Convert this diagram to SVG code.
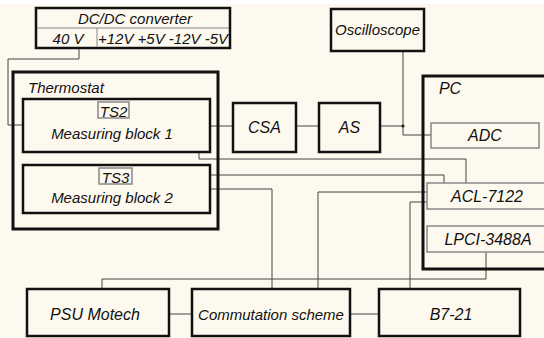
<svg xmlns="http://www.w3.org/2000/svg" width="544" height="338" viewBox="0 0 544 338">
<style>
text{font-family:"Liberation Sans",Arial,sans-serif;font-style:italic;fill:#111;text-anchor:middle}
.box{fill:#fdf9ef;stroke:#111;stroke-width:2.5}
.big{fill:none;stroke:#111;stroke-width:3}
.sub{fill:#fdf9ef;stroke:#888;stroke-width:1.5}
.thin{fill:none;stroke:#888;stroke-width:1}
.w{fill:none;stroke:#444;stroke-width:1}
.t15{font-size:15px}
.t16{font-size:16px}
</style>
<rect x="0" y="0" width="544" height="338" fill="#fdf9ef"/>
<rect x="0" y="0" width="544" height="4" fill="#ffffff"/>

<g id="connectors">
<polyline class="w" points="79,49 79,59 8,59 8,125 23,125" stroke="#777"/>
<polyline class="w" points="129,108 199,108 199,159 466,159 466,183"/>
<polyline class="w" points="132,175 444,175 444,183"/>
<polyline class="w" points="211,189 272,189 272,289"/>
<polyline class="w" points="427,192 318,192 318,289"/>
<polyline class="w" points="427,202 410,202 410,289"/>
<polyline class="w" points="486,252 486,279 102,279 102,289"/>
<line class="w" x1="210" y1="126" x2="233" y2="126"/>
<line class="w" x1="296" y1="126" x2="319" y2="126"/>
<line class="w" x1="380" y1="126" x2="403" y2="126"/>
<polyline class="w" points="403,51 403,135 431,135"/>
<circle cx="403" cy="126" r="1.6" fill="#222"/>
<line class="w" x1="169" y1="314" x2="192" y2="314"/>
<line class="w" x1="350" y1="314" x2="379" y2="314"/>
</g>

<g id="dcdc">
<rect class="box" x="36" y="8" width="194" height="40"/>
<line class="thin" x1="37" y1="28" x2="229" y2="28"/>
<line class="thin" x1="97" y1="28" x2="97" y2="47"/>
<text class="t15" x="135" y="24">DC/DC converter</text>
<text class="t15" x="68" y="44">40 V</text>
<text class="t15" x="163" y="44">+12V +5V -12V -5V</text>
</g>

<g id="thermostat">
<rect class="big" x="13" y="72" width="205" height="157"/>
<text class="t15" x="28" y="93" style="text-anchor:start">Thermostat</text>
</g>

<g id="mb1">
<rect class="box" x="23" y="99" width="187" height="53"/>
<rect class="sub" x="98" y="102" width="31" height="16" stroke-width="1"/>
<text class="t15" x="113.5" y="117">TS2</text>
<text class="t15" x="112" y="139">Measuring block 1</text>
</g>

<g id="mb2">
<rect class="box" x="23" y="165" width="187" height="48"/>
<rect class="sub" x="99" y="168" width="33" height="16" stroke-width="1"/>
<text class="t15" x="115.5" y="183">TS3</text>
<text class="t15" x="112" y="203">Measuring block 2</text>
</g>

<g id="csa">
<rect class="box" x="233" y="103" width="63" height="49"/>
<text class="t16" x="264.5" y="133">CSA</text>
</g>

<g id="as">
<rect class="box" x="319" y="103" width="61" height="49"/>
<text class="t16" x="349.5" y="133">AS</text>
</g>

<g id="oscilloscope">
<rect class="box" x="331" y="9" width="93" height="42"/>
<text class="t15" x="377.5" y="35">Oscilloscope</text>
</g>

<g id="pc">
<rect class="big" x="423" y="76" width="130" height="193"/>
<text class="t16" x="450" y="94">PC</text>
</g>

<g id="adc">
<rect class="sub" x="431" y="123" width="108" height="25"/>
<text class="t16" x="485" y="141">ADC</text>
</g>

<g id="acl">
<rect class="sub" x="427" y="183" width="130" height="26"/>
<text class="t16" x="487" y="202">ACL-7122</text>
</g>

<g id="lpci">
<rect class="sub" x="427" y="226" width="130" height="26"/>
<text class="t16" x="488" y="245">LPCI-3488A</text>
</g>

<g id="psu">
<rect class="box" x="27" y="289" width="142" height="47"/>
<text class="t16" x="95" y="320">PSU Motech</text>
</g>

<g id="commutation">
<rect class="box" x="192" y="289" width="158" height="47"/>
<text class="t15" x="271" y="320">Commutation scheme</text>
</g>

<g id="b721">
<rect class="box" x="379" y="289" width="141" height="47"/>
<text class="t16" x="451" y="320">B7-21</text>
</g>
</svg>
